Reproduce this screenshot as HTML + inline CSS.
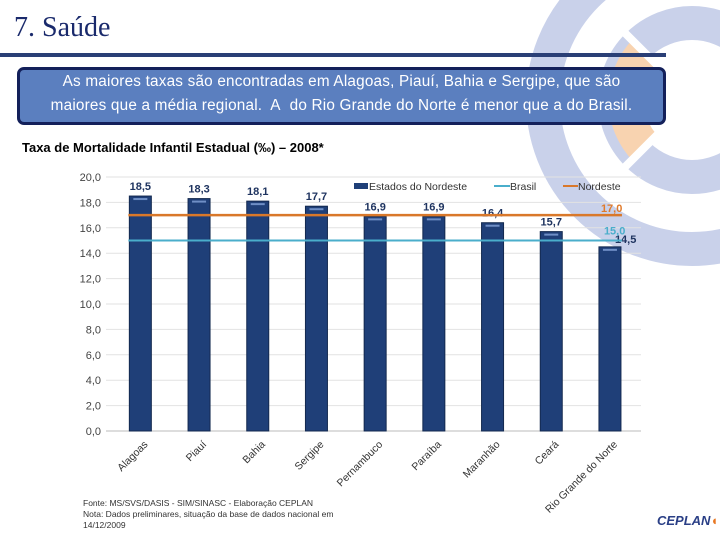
<!DOCTYPE html>
<html><head><meta charset="utf-8"><style>
body{margin:0;width:720px;height:540px;overflow:hidden;background:#fff;font-family:"Liberation Sans",sans-serif;position:relative}
.t{position:absolute}
</style></head><body>
<svg class="t" style="left:0;top:0" width="720" height="540">
<circle cx="692" cy="100" r="149" fill="none" stroke="#c9d1ea" stroke-width="34"/>
<circle cx="692" cy="100" r="77" fill="none" stroke="#c9d1ea" stroke-width="34"/>
<path d="M 692 100 L 637 45 A 77 77 0 0 0 637 155 Z" fill="none"/>
<path d="M 655 63 A 52 52 0 0 0 655 137 L 630 162 A 88 88 0 0 1 630 38 Z" fill="#f8d3b0" transform="translate(4 0)"/>
<path d="M 730 62 A 52 52 0 0 1 730 138 L 755 162 A 88 88 0 0 0 755 38 Z" fill="#f8d3b0"/>
<line x1="600" y1="8" x2="784" y2="192" stroke="#fff" stroke-width="8"/>
<line x1="600" y1="192" x2="784" y2="8" stroke="#fff" stroke-width="8"/>
<rect x="0" y="53" width="666" height="4" fill="#2a3f76"/>
</svg>
<div class="t" style="left:14px;top:12px;font-family:'Liberation Serif',serif;font-size:28px;color:#1a2a6c">7. Saúde</div>
<div class="t" style="left:17px;top:67px;width:643px;height:52px;border:3px solid #13205a;border-radius:7px;background:#5b7fbf;font-size:15.3px;color:#fff;text-align:center;line-height:24px;letter-spacing:0.2px;white-space:nowrap">As maiores taxas são encontradas em Alagoas, Piauí, Bahia e Sergipe, que são<br>maiores que a média regional.&nbsp; A&nbsp; do Rio Grande do Norte é menor que a do Brasil.</div>
<div class="t" style="left:22px;top:140px;font-size:13px;font-weight:bold;color:#000">Taxa de Mortalidade Infantil Estadual (‰) – 2008*</div>
<svg id="chart" class="t" style="left:0;top:0" width="720" height="540"></svg>
<div class="t" style="left:83px;top:498px;font-size:8.5px;color:#333;line-height:11px">Fonte: MS/SVS/DASIS - SIM/SINASC - Elaboração CEPLAN<br>Nota: Dados preliminares, situação da base de dados nacional em<br>14/12/2009</div>
<div class="t" style="left:657px;top:513px;font-size:13px;font-weight:bold;font-style:italic;color:#2a3f86">CEPLAN<span style="color:#e87722">◖</span></div>
<script>
const categories=["Alagoas","Piauí","Bahia","Sergipe","Pernambuco","Paraíba","Maranhão","Ceará","Rio Grande do Norte"];
const values=[18.5,18.3,18.1,17.7,16.9,16.9,16.4,15.7,14.5];
const valueLabels=["18,5","18,3","18,1","17,7","16,9","16,9","16,4","15,7","14,5"];
const brasil=15.0;
const nordeste=17.0;
const ticks=[0,2,4,6,8,10,12,14,16,18,20];
const NS="http://www.w3.org/2000/svg";
const svg=document.getElementById('chart');
const x0=111,step=58.7,y0=431,yk=12.7;
const X=i=>x0+step*(i+0.5), Y=v=>y0-v*yk;
function el(t,a,txt){const e=document.createElementNS(NS,t);for(const k in a)e.setAttribute(k,a[k]);if(txt!=null)e.textContent=txt;svg.appendChild(e);return e;}
ticks.forEach(t=>{
 const g=el('line',{x1:x0-5,x2:x0+530,y1:Y(t),y2:Y(t),stroke:t?'#e2e2e2':'#bbb','stroke-width':1});
 
 const l=el('text',{x:x0-10,y:Y(t)+4,'font-size':11,fill:'#444','text-anchor':'end'},t.toFixed(1).replace('.',','));
 
});
categories.forEach((c,i)=>{
 const x=X(i),v=values[i];
 const b=el('rect',{x:x-11,y:Y(v),width:22,height:v*yk,fill:'#1f3f78',stroke:'#13294f','stroke-width':1});
 
 el('rect',{x:x-7,y:Y(v)+2,width:14,height:2,fill:'#6f8fc6'});
 if(i<8){const lb=el('text',{x:x,y:Y(v)-6,'font-size':11,'font-weight':'bold',fill:'#1f3460','text-anchor':'middle'},valueLabels[i]);
 }
 else{const lb=el('text',{x:x+5,y:Y(v)-4,'font-size':11,'font-weight':'bold',fill:'#1f3460'},valueLabels[i]);
 }
 const tx=el('text',{x:x+8,y:y0+14,'font-size':10.5,fill:'#333','text-anchor':'end',transform:`rotate(-45 ${x+8} ${y0+14})`},c);
 
});
const ln=el('line',{x1:X(0)-12,x2:X(8)+12,y1:Y(nordeste),y2:Y(nordeste),stroke:'#d9782a','stroke-width':2.5});

const lbr=el('line',{x1:X(0)-12,x2:X(8)+12,y1:Y(brasil),y2:Y(brasil),stroke:'#4aaecb','stroke-width':2});

const tn=el('text',{x:X(8)-9,y:Y(nordeste)-3,'font-size':11,'font-weight':'bold',fill:'#e07a2a'},nordeste.toFixed(1).replace('.',','));

const tb=el('text',{x:X(8)-6,y:Y(brasil)-6,'font-size':11,'font-weight':'bold',fill:'#4aaecb'},brasil.toFixed(1).replace('.',','));

const lg1=el('rect',{x:354,y:183,width:14,height:6,fill:'#1f3f78'});

const lt1=el('text',{x:369,y:190,'font-size':10.5,fill:'#333'},'Estados do Nordeste');

const lg2=el('line',{x1:494,x2:510,y1:186,y2:186,stroke:'#4aaecb','stroke-width':2});

const lt2=el('text',{x:510,y:190,'font-size':10.5,fill:'#333'},'Brasil');

const lg3=el('line',{x1:563,x2:578,y1:186,y2:186,stroke:'#d9782a','stroke-width':2});

const lt3=el('text',{x:578,y:190,'font-size':10.5,fill:'#333'},'Nordeste');

</script>
</body></html>
